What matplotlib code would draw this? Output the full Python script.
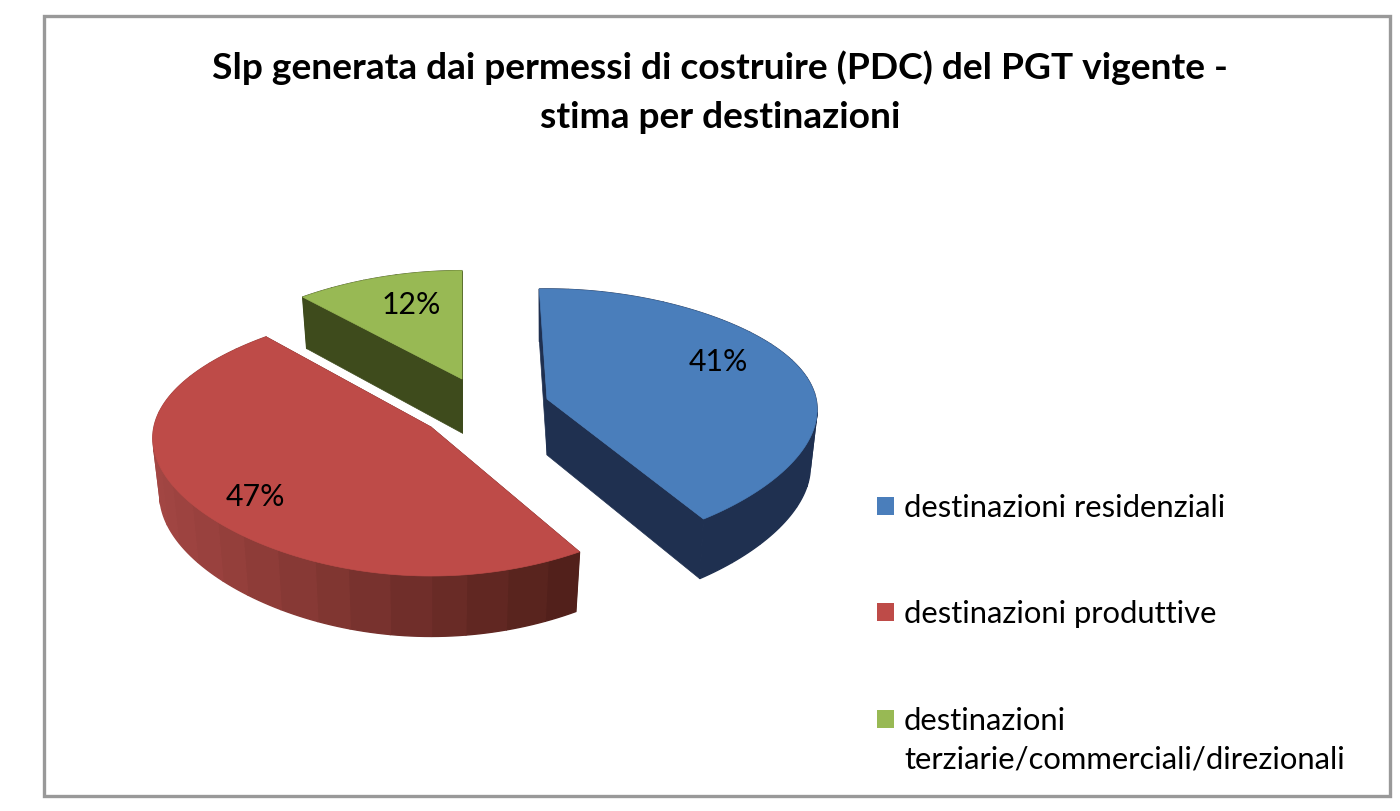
import numpy as np
import matplotlib
matplotlib.use('Agg')
import matplotlib.pyplot as plt
from matplotlib.patches import Rectangle, Polygon

plt.rcParams['font.family'] = ['Lato', 'DejaVu Sans']

# --- data ---
categories = ['destinazioni residenziali', 'destinazioni produttive',
              'destinazioni\nterziarie/commerciali/direzionali']
values = [41, 47, 12]

title = 'Slp generata dai permessi di costruire (PDC) del PGT vigente -\nstima per destinazioni'

# --- style / layout (in image pixels) ---
top_colors = ['#4a7ebb', '#be4b48', '#98b954']
wall_colors = ['#1f3050', '#4f1f19', '#3e4b1c']
side_left = ['#1f3050', '#a34643', '#3e4b1c']
side_right = ['#1f3050', '#4f1f19', '#3e4b1c']
apex = [(547, 400), (431, 428), (462, 380)]
label_pos = [(718, 362), (255, 497), (411, 305)]
legend_y = [507, 613, 720]
slice_rx = [269, 277, 262]
slice_ry = [127, 132, 125]
slice_persp = [0.154, 0.114, 0.154]
slice_rot = [-2, 1, 0]  # the exploded slices do not line up exactly
slice_depth = [56, 56, 54]


def rim(theta, rx, ry, persp):
    # point of the tilted disc, clockwise from the top, relative to the apex
    u, v = np.sin(theta), -np.cos(theta)
    widen = 1 + 0.0986 * v - 0.0753 * v ** 2
    return rx * u * widen, ry * v / (1 - persp * v)


def lerp(c1, c2, t):
    a = np.array(matplotlib.colors.to_rgb(c1))
    b = np.array(matplotlib.colors.to_rgb(c2))
    return tuple(a + (b - a) * t)


fig = plt.figure(figsize=(14, 8.12), dpi=100)
ax = fig.add_axes([0, 0, 1, 1])
ax.set_xlim(0, 1400)
ax.set_ylim(812, 0)
ax.axis('off')

ax.add_patch(Rectangle((44, 17), 1346, 780, fill=False, ec='#999999', lw=2.4))

ax.text(720, 92, title, ha='center', va='center', fontsize=26.7, fontweight='bold',
        color='black', linespacing=1.6)

# --- slices ---
fractions = np.array(values) / sum(values)
edges = 360 * np.concatenate([[0], np.cumsum(fractions)])

for i in [2, 0, 1]:
    ax0, ay0 = apex[i]
    th = np.deg2rad(np.linspace(edges[i] + slice_rot[i], edges[i + 1] + slice_rot[i], 120))
    px, py = rim(th, slice_rx[i], slice_ry[i], slice_persp[i])
    # bottom is pulled in a little towards the apex
    bx, by = px * 0.975, py * 1.03 + slice_depth[i]

    # flat walls along the two cut edges
    for k in [0, -1]:
        wall = [(ax0, ay0), (ax0 + px[k], ay0 + py[k]),
                (ax0 + bx[k], ay0 + by[k]), (ax0, ay0 + slice_depth[i])]
        ax.add_patch(Polygon(wall, fc=wall_colors[i], ec=wall_colors[i], lw=0.5))

    # outer rim, built from facets like the original
    n = max(int((edges[i + 1] - edges[i]) / 8), 1)
    cuts = np.linspace(0, len(th) - 1, n + 1).astype(int)
    xmin, xmax = (ax0 + px).min(), (ax0 + px).max()
    for a, b in zip(cuts[:-1], cuts[1:]):
        idx = np.arange(a, b + 1)
        poly = np.vstack([np.c_[ax0 + px[idx], ay0 + py[idx]],
                          np.c_[ax0 + bx[idx], ay0 + by[idx]][::-1]])
        t = (ax0 + px[idx].mean() - xmin) / (xmax - xmin)
        c = lerp(side_left[i], side_right[i], t)
        ax.add_patch(Polygon(poly, fc=c, ec=c, lw=1))

    face = np.vstack([[(ax0, ay0)], np.c_[ax0 + px, ay0 + py]])
    ax.add_patch(Polygon(face, fc=top_colors[i], ec=top_colors[i], lw=0.5))

for v, pos in zip(values, label_pos):
    ax.text(pos[0], pos[1], f'{v}%', ha='center', va='center', fontsize=21.8, color='black')

# --- legend ---
for c, name, y in zip(top_colors, categories, legend_y):
    ax.add_patch(Rectangle((877, y - 9), 17, 18, fc=c, ec='none'))
    ax.text(904, y - 13, name, ha='left', va='top', fontsize=22.3, color='black',
            linespacing=1.45)

fig.savefig('out.png', dpi=100)
